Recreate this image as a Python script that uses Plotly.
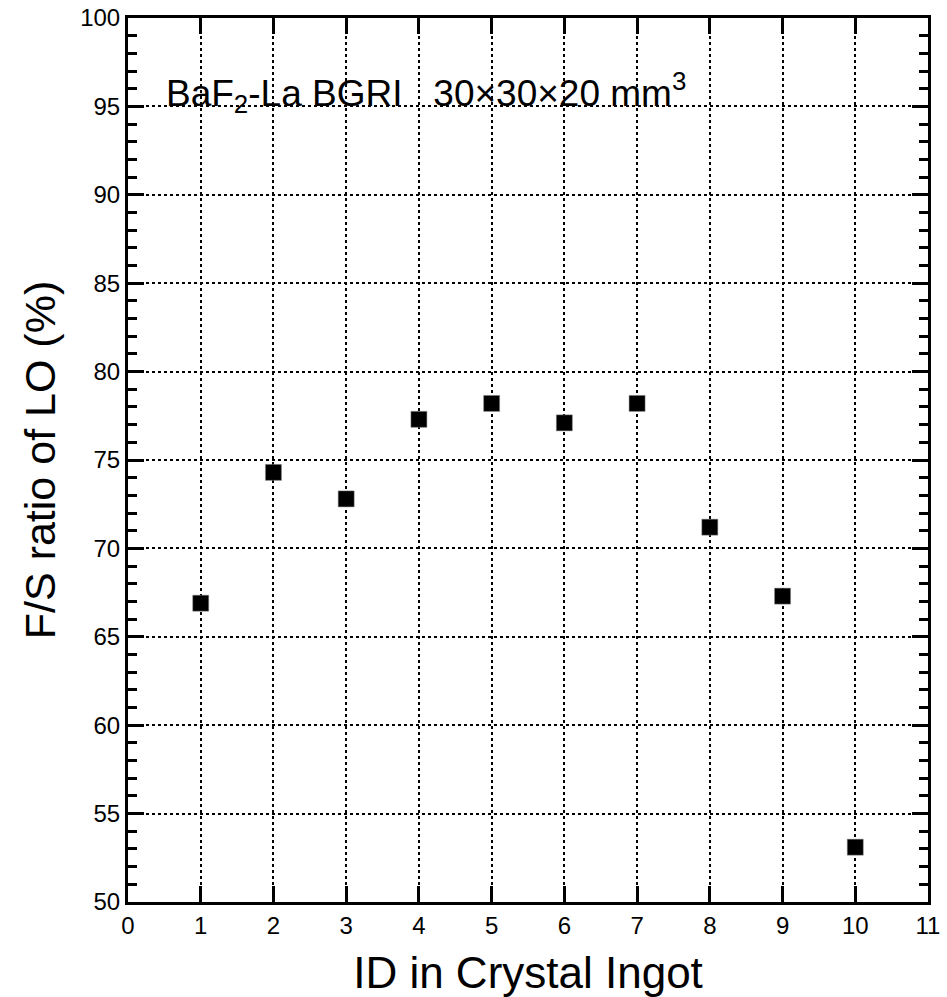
import plotly.graph_objects as go

ids = [1, 2, 3, 4, 5, 6, 7, 8, 9, 10]
fs_ratio = [66.9, 74.3, 72.8, 77.3, 78.2, 77.1, 78.2, 71.2, 67.3, 53.1]

x_title = "ID in Crystal Ingot"
y_title = "F/S ratio of LO (%)"
label = "BaF<sub>2</sub>-La BGRI\u00a0\u00a0\u00a030\u00d730\u00d720 mm<sup>3</sup>"

FONT = "Liberation Sans, Arial, sans-serif"

fig = go.Figure()
fig.add_trace(go.Scatter(
    x=ids, y=fs_ratio, mode="markers",
    marker=dict(symbol="square", size=16, color="black",
                line=dict(color="#888888", width=0.5)),
    showlegend=False,
))

fig.add_annotation(
    x=0.5, y=95.8, xref="x", yref="y", text=label, showarrow=False,
    xanchor="left", yanchor="middle",
    font=dict(family=FONT, size=37, color="black"),
)

common = dict(
    showline=True, linecolor="black", linewidth=3, mirror="ticks",
    ticks="inside", tickcolor="black", tickwidth=2.5, ticklen=16,
    showgrid=True, gridcolor="black", gridwidth=1.5, griddash="dot",
    zeroline=False, automargin=False,
    tickfont=dict(family=FONT, size=24, color="black"),
)

fig.update_xaxes(
    range=[0, 11], dtick=1, tick0=0,
    title=dict(text=x_title, font=dict(family=FONT, size=44, color="black"), standoff=20),
    **common,
)
fig.update_yaxes(
    range=[50, 100], dtick=5, tick0=50,
    minor=dict(dtick=1, ticks="inside", ticklen=9, tickwidth=2.5, tickcolor="black", showgrid=False),
    title=dict(text=y_title, font=dict(family=FONT, size=43, color="black"), standoff=12),
    **common,
)

fig.update_layout(
    width=947, height=997,
    margin=dict(l=128, r=19, t=18, b=95),
    plot_bgcolor="white", paper_bgcolor="white",
    font=dict(family=FONT, color="black"),
)

fig.write_html("out.html")
